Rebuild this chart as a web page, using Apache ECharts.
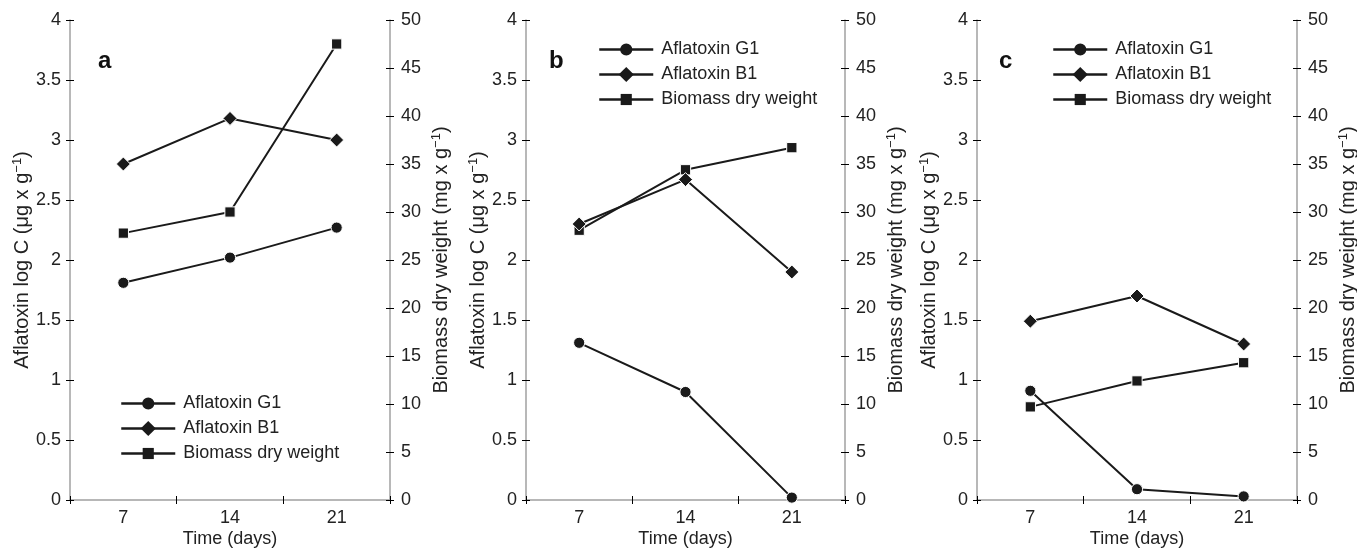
<!DOCTYPE html>
<html>
<head>
<meta charset="utf-8">
<script src="https://cdn.jsdelivr.net/npm/echarts@6/dist/echarts.min.js"></script>
<style>
  html, body { margin: 0; padding: 0; background: #fff; }
  #chart { width: 1357px; height: 548px; }
</style>
</head>
<body>
<div id="chart"></div>
<script>
// time points (days)
const days = ['7', '14', '21'];

// panel a
const g1A = [1.81, 2.02, 2.27];
const b1A = [2.80, 3.18, 3.00];
const bioA = [27.8, 30.0, 47.5];
// panel b
const g1B = [1.31, 0.90, 0.02];
const b1B = [2.30, 2.67, 1.90];
const bioB = [28.1, 34.4, 36.7];
// panel c
const g1C = [0.91, 0.09, 0.03];
const b1C = [1.49, 1.70, 1.30];
const bioC = [9.7, 12.4, 14.3];

const seriesNames = ['Aflatoxin G1', 'Aflatoxin B1', 'Biomass dry weight'];
const panelLetters = ['a', 'b', 'c'];

const FONT = '"Liberation Sans", Arial, Helvetica, sans-serif';
const INK = '#1a1a1a';
const AXIS_GRAY = '#a0a0a0';

// marker shapes drawn in a 15x15 box, so circle/square come out smaller than the diamond
const MARK_CIRCLE = 'path://M0,0 M15,15 M1.5,7.5 A6,6 0 1 1 13.5,7.5 A6,6 0 1 1 1.5,7.5 Z';
const MARK_DIAMOND = 'path://M7.5,0 L15,7.5 L7.5,15 L0,7.5 Z';
const MARK_SQUARE = 'path://M0,0 M15,15 M2,2 L13,2 L13,13 L2,13 Z';

// layout of each panel
const layout = [
  { left: 70, width: 320, letterLeft: 93, legendLeft: 115, legendTop: 389 },
  { left: 526, width: 319, letterLeft: 544, legendLeft: 593, legendTop: 35 },
  { left: 977, width: 320, letterLeft: 994, legendLeft: 1047, legendTop: 35 }
];
const panelData = [
  [g1A, b1A, bioA],
  [g1B, b1B, bioB],
  [g1C, b1C, bioC]
];

const chart = echarts.init(document.getElementById('chart'));

const grid = [];
const xAxis = [];
const yAxis = [];
const series = [];
const legend = [];
const title = [];

const nameStyle = {
  color: '#222', fontSize: 20, fontFamily: FONT, lineHeight: 22,
  rich: { sup: { fontSize: 13, fontFamily: FONT, color: '#222', verticalAlign: 'top', lineHeight: 18 } }
};

function tickAxis(extra) {
  return Object.assign({
    axisLine: { show: true, lineStyle: { color: AXIS_GRAY, width: 1.5 } },
    axisTick: { show: true, length: 4, lineStyle: { color: '#000', width: 1 } },
    splitLine: { show: false },
    nameMoveOverlap: false,
    axisLabel: { show: true, color: '#222', fontSize: 18, fontFamily: FONT }
  }, extra);
}

// second copy of an axis that only draws the inner half of the ticks
function innerTicks(extra) {
  return Object.assign({
    axisLine: { show: false, onZero: false },
    axisLabel: { show: false },
    splitLine: { show: false },
    axisTick: { show: true, inside: true, length: 4, lineStyle: { color: '#000', width: 1 } }
  }, extra);
}

layout.forEach((p, i) => {
  grid.push({ left: p.left, width: p.width, top: 20, height: 480, outerBoundsMode: 'none', containLabel: false });

  xAxis.push(tickAxis({
    type: 'category', gridIndex: i, data: days, position: 'bottom',
    boundaryGap: true,
    axisLine: { show: true, onZero: false, lineStyle: { color: AXIS_GRAY, width: 1.5 } },
    axisLabel: { color: '#222', fontSize: 18, fontFamily: FONT, margin: 9 },
    name: 'Time (days)', nameLocation: 'middle', nameGap: 30,
    nameTextStyle: { color: '#222', fontSize: 18, fontFamily: FONT }
  }));
  xAxis.push(innerTicks({
    type: 'category', gridIndex: i, data: days, position: 'bottom', boundaryGap: true
  }));

  // left: aflatoxin log C
  yAxis.push(tickAxis({
    type: 'value', gridIndex: i, position: 'left', min: 0, max: 4, interval: 0.5,
    axisLabel: { color: '#222', fontSize: 18, fontFamily: FONT, margin: 9 },
    name: 'Aflatoxin log C (μg x g{sup|−1})', nameLocation: 'middle', nameGap: 37,
    nameRotate: 90, nameTextStyle: nameStyle
  }));
  // right: biomass
  yAxis.push(tickAxis({
    type: 'value', gridIndex: i, position: 'right', min: 0, max: 50, interval: 5,
    axisLabel: { color: '#222', fontSize: 18, fontFamily: FONT, margin: 11 },
    name: 'Biomass dry weight (mg x g{sup|−1})', nameLocation: 'middle', nameGap: 40,
    nameRotate: 90, nameTextStyle: nameStyle
  }));
  yAxis.push(innerTicks({
    type: 'value', gridIndex: i, position: 'left', min: 0, max: 4, interval: 0.5
  }));
  yAxis.push(innerTicks({
    type: 'value', gridIndex: i, position: 'right', min: 0, max: 50, interval: 5
  }));

  const symbols = [MARK_CIRCLE, MARK_DIAMOND, MARK_SQUARE];
  panelData[i].forEach((vals, k) => {
    series.push({
      name: seriesNames[k],
      type: 'line',
      xAxisIndex: i * 2,
      yAxisIndex: k === 2 ? i * 4 + 1 : i * 4,
      data: vals,
      symbol: symbols[k],
      symbolSize: 14,
      showAllSymbol: true,
      z: k === 1 ? 4 : 3,
      lineStyle: { color: INK, width: 2 },
      itemStyle: { color: INK, borderColor: '#fff', borderWidth: 1 },
      emphasis: { disabled: true },
      animation: false
    });
  });

  legend.push({
    left: p.legendLeft, top: p.legendTop, orient: 'vertical',
    data: seriesNames,
    itemWidth: 54, itemHeight: 19, itemGap: 6,
    selectedMode: false,
    itemStyle: { borderWidth: 0 },
    lineStyle: { width: 2.5 },
    textStyle: { color: '#222', fontSize: 18, fontFamily: FONT, lineHeight: 19, padding: [0, 0, 0, 3] }
  });

  title.push({
    text: panelLetters[i], left: p.letterLeft, top: 44,
    textStyle: { color: '#111', fontSize: 24, fontWeight: 'bold', fontFamily: FONT }
  });
});

chart.setOption({
  backgroundColor: '#fff',
  animation: false,
  title,
  legend,
  grid,
  xAxis,
  yAxis,
  series
});
</script>
</body>
</html>
